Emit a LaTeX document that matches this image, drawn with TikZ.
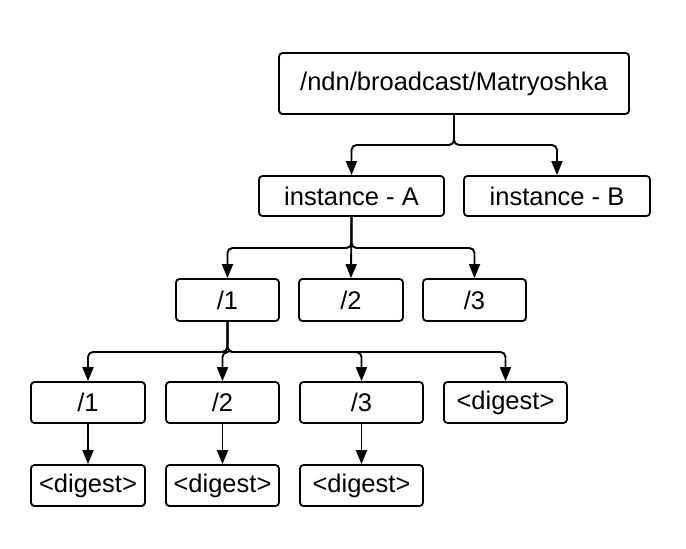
\documentclass[tikz,border=0pt]{standalone}
\usepackage{fontspec}
\setmainfont{Liberation Sans}
\usepackage{tikz}
\usetikzlibrary{arrows.meta}
\usetikzlibrary{positioning}

\tikzset{
	box/.style={draw,rounded corners=3.5pt,line width=1.8pt,inner sep=0pt,
		font=\fontsize{25.5}{30}\selectfont,minimum height=41pt},
	conn/.style={line width=1.9pt,rounded corners=5pt,-{Triangle[length=14pt,width=11pt]}},
}

\begin{document}
\begin{tikzpicture}[x=1pt,y=1pt]
	\useasboundingbox (0,0) rectangle (686,-549);
	
	% name prefix
	\node [box,minimum width=350pt,minimum height=61pt] (root) at (454,-83.5) {/ndn/broadcast/Matryoshka};
	
	% instances
	\node [box,minimum width=185pt,minimum height=40pt] (instA) at (351.5,-196) {instance - A};
	\node [box,minimum width=186pt,minimum height=40pt] (instB) at (557,-196) {instance - B};
	
	\node [box,minimum width=103pt,minimum height=42pt] (a1) at (227.5,-300) {/1};
	\node [box,minimum width=104pt,minimum height=42pt] (a2) at (351,-300) {/2};
	\node [box,minimum width=103pt,minimum height=42pt] (a3) at (474.5,-300) {/3};
	
	\node [box,minimum width=114pt] (b1) at (88,-402.5) {/1};
	\node [box,minimum width=113pt] (b2) at (222.5,-402.5) {/2};
	\node [box,minimum width=123pt] (b3) at (361.5,-402.5) {/3};
	\node [box,minimum width=123pt] (bd) at (505.5,-402.5) {<digest>};
	
	% digests
	\node [box,minimum width=114pt] (d1) at (88,-485.5) {<digest>};
	\node [box,minimum width=113pt] (d2) at (222.5,-485.5) {<digest>};
	\node [box,minimum width=123pt] (d3) at (361.5,-485.5) {<digest>};
	
	\coordinate (bar0) at (0,-145);
	\coordinate (bar1) at (0,-248);
	\coordinate (bar2) at (0,-352);
	
	\draw[conn] (root.south) -- (root.south |- bar0) -| (instA.north);
	\draw[conn] (root.south) -- (root.south |- bar0) -| (instB.north);
	
	\draw[conn] (instA.south) -- (instA.south |- bar1) -| (a1.north);
	\draw[conn] (instA.south) -- (a2.north);
	\draw[conn] (instA.south) -- (instA.south |- bar1) -| (a3.north);
	
	\draw[conn] (a1.south) -- (a1.south |- bar2) -| (b1.north);
	\draw[conn] (a1.south) -- (a1.south |- bar2) -| (b2.north);
	\draw[conn] (a1.south) -- (a1.south |- bar2) -| (b3.north);
	\draw[conn] (a1.south) -- (a1.south |- bar2) -| (bd.north);
	
	\draw[conn] (b1) -- (d1);
	\draw[conn] (b2) -- (d2);
	\draw[conn] (b3) -- (d3);
\end{tikzpicture}
\end{document}
